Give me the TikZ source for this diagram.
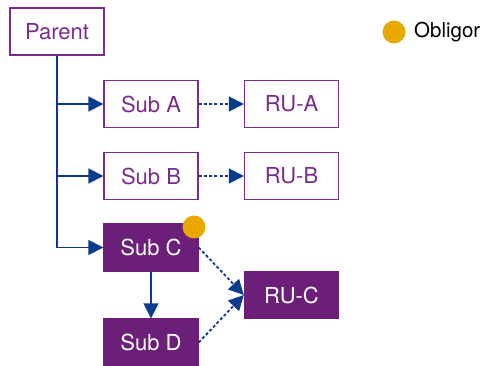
\documentclass[tikz,border=0pt]{standalone}
\usepackage{fontspec}
\setmainfont{TeX Gyre Heros}
\usetikzlibrary{arrows.meta}
\definecolor{purp}{HTML}{7B2D8E}
\definecolor{purpfill}{HTML}{6B1F78}
\definecolor{arrblue}{HTML}{0B3A8E}
\definecolor{obl}{HTML}{E9A800}
\tikzset{
  box/.style={draw=purp, line width=1.4pt, fill=white, text=purp, minimum width=94pt, minimum height=47pt, inner sep=0pt, font=\fontsize{22}{26}\selectfont},
  fbox/.style={box, fill=purpfill, draw=purpfill, text=white},
  conn/.style={draw=arrblue, line width=1.8pt, -{Triangle[length=15pt,width=15pt]}},
  dconn/.style={conn, dash pattern=on 3pt off 2.2pt},
  dot/.style={circle, fill=obl, minimum size=23pt, inner sep=0pt},
}
\begin{document}
\begin{tikzpicture}[x=1pt,y=1pt]
\useasboundingbox (0,0) rectangle (482,-366);
\node[box] (parent) at (57,-31.5) {Parent};
\node[box] (suba) at (151,-104) {Sub A};
\node[box] (rua) at (291.5,-104) {RU-A};
\node[box] (subb) at (151,-176) {Sub B};
\node[box] (rub) at (291.5,-176) {RU-B};
\node[fbox] (subc) at (151,-247.5) {Sub C};
\node[fbox] (subd) at (151,-342.5) {Sub D};
\node[fbox] (ruc) at (291.5,-295) {RU-C};
\node[dot] (cdot) at (194,-227) {};
\node[dot] (ldot) at (394,-32) {};
\node[anchor=west, inner sep=0pt, font=\fontsize{20.5}{24}\selectfont] (legend) at (414,-32) {Obligor};
\draw[conn] (parent.south) |- (subc.west);
\draw[conn] (parent.south |- suba.west) -- (suba.west);
\draw[conn] (parent.south |- subb.west) -- (subb.west);
\draw[dconn] (suba.east) -- (rua.west);
\draw[dconn] (subb.east) -- (rub.west);
\draw[conn] (subc.south) -- (subd.north);
\draw[dconn] (subc.east) -- (ruc.west);
\draw[dconn] (subd.east) -- (ruc.west);
\end{tikzpicture}
\end{document}
